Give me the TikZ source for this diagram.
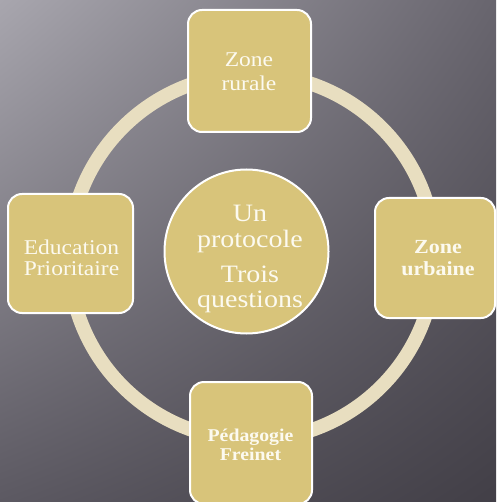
\documentclass[tikz,border=0pt]{standalone}
\usepackage{fontspec}
\setmainfont[FakeStretch=1.12]{Liberation Serif}
\newfontfamily\boldfam[FakeStretch=1.1]{Liberation Serif}
\usetikzlibrary{shadings}
\definecolor{gold}{RGB}{216,196,122}
\definecolor{ringc}{RGB}{232,222,192}
\definecolor{txt}{RGB}{252,250,240}
\definecolor{bgA}{RGB}{168,166,174}
\definecolor{bgB}{RGB}{104,101,110}
\definecolor{bgC}{RGB}{92,89,98}
\definecolor{bgD}{RGB}{66,63,71}
\begin{document}
\begin{tikzpicture}[x=1pt,y=-1pt,
  box/.style={draw=white, line width=2pt, fill=gold, rounded corners=14pt, inner sep=0pt},
  lbl/.style={anchor=base, text=txt, inner sep=0pt},
  reg/.style={lbl, font=\fontsize{21}{21}\selectfont},
  bld/.style={lbl, font=\boldfam\bfseries\fontsize{#1}{#1}\selectfont},
  big/.style={lbl, align=center, font=\fontsize{25}{#1}\selectfont},
  ring/.style={draw=ringc, line width=14pt}]
\useasboundingbox (0,0) rectangle (496,502);
\clip (0,0) rectangle (496,502);
\shade[upper left=bgA, upper right=bgB, lower left=bgC, lower right=bgD] (0,0) rectangle (496,502);
\draw[ring] (252,257) circle[radius=183pt];
% boxes
\node[box, minimum width=123pt, minimum height=122pt] (rur) at (249.5,71) {};
\node[box, minimum width=125pt, minimum height=119pt] (edu) at (70.5,253.5) {};
\node[box, minimum width=120pt, minimum height=120pt] (urb) at (435,258) {};
\node[box, minimum width=122pt, minimum height=122pt] (fre) at (251,443) {};
\node[circle, draw=white, line width=2pt, fill=gold, minimum size=164pt, inner sep=0pt] (ctr) at (246.5,251.5) {};
% texts
\node[reg] (rur1) at (249,67) {Zone};
\node[reg] (rur2) at (249,91) {rurale};
\node[reg] (edu1) at (71.5,254) {Education};
\node[reg] (edu2) at (71.5,275) {Prioritaire};
\node[bld=20] (urb1) at (438,253) {Zone};
\node[bld=20] (urb2) at (438,275) {urbaine};
\node[bld=18] (fre1) at (250.5,441) {Pédagogie};
\node[bld=18] (fre2) at (250.5,460) {Freinet};
\node[big=25] (ctrA) at (250,247) {Un\\protocole};
\node[big=25] (ctrB) at (250,307) {Trois\\questions};
\end{tikzpicture}
\end{document}
